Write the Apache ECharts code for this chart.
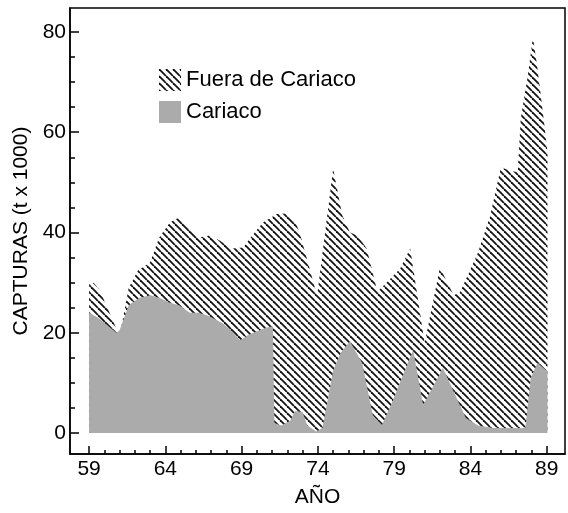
<!DOCTYPE html>
<html>
<head>
<meta charset="utf-8">
<script src="https://cdn.jsdelivr.net/npm/echarts@6/dist/echarts.min.js"></script>
<style>
  html, body { margin: 0; padding: 0; background: #fff; }
  #chart { width: 568px; height: 513px; }
</style>
</head>
<body>
<div id="chart"></div>
<script>
// total catch (top outline of the hatched band)
const totalYears = [59.0, 59.3, 59.7, 60.2, 61.0, 61.6, 62.2, 63.0, 63.6, 64.3, 64.9, 65.6, 66.2, 66.9, 67.55, 68.4, 69.1, 69.7, 70.4, 71.3, 71.96, 72.5, 72.8, 73.95, 75.0, 75.6, 76.1, 76.6, 77.2, 77.9, 78.5, 79.4, 80.05, 81.0, 82.0, 82.9, 83.3, 84.5, 85.3, 86.0, 86.6, 87.1, 87.3, 87.75, 88.1, 88.4, 88.8, 89.05];
const totalValues = [29.7, 30, 28.5, 25, 19.3, 29, 32.4, 34, 39, 42, 43, 40.8, 39, 39.4, 38.4, 36.8, 37, 39.4, 42, 43.7, 43.8, 42.3, 40, 27.4, 52.7, 43.4, 40, 39.4, 36.8, 28.2, 30, 32.8, 36.8, 17.9, 33, 27.5, 28, 36, 43.4, 53, 52.3, 52, 62.7, 71, 79, 72.6, 62.7, 56];

// Cariaco catch (grey area)
const cariacoYears = [59.0, 59.6, 60.8, 61.0, 61.6, 62.3, 63.0, 63.6, 64.3, 64.9, 65.6, 66.2, 66.9, 67.75, 68.3, 68.9, 69.4, 70.0, 70.6, 71.05, 71.15, 71.6, 72.2, 72.5, 73.0, 73.3, 73.9, 74.3, 75.0, 75.5, 76.1, 76.9, 77.6, 78.2, 78.9, 79.9, 80.25, 80.9, 81.5, 82.2, 82.9, 83.7, 84.5, 85.5, 86.5, 87.6, 87.95, 88.4, 89.05];
const cariacoValues = [24, 23, 20, 20.5, 25.5, 27, 27.5, 27, 26, 25.5, 24, 24, 23.3, 21.9, 20.5, 18.5, 19.5, 20.3, 21, 21.3, 2, 1.5, 2.5, 4.4, 4.2, 1.5, 0.3, 1, 12.5, 16, 18.3, 14, 3.6, 1.6, 6.4, 14, 16.5, 5.6, 9, 13, 8.3, 3, 1.5, 1, 1, 1, 11, 14, 12.3];

const yearLabels = [59, 64, 69, 74, 79, 84, 89];
const yearTicks = [];
for (let y = 59; y <= 89; y++) yearTicks.push(y);
const yLabels = [0, 20, 40, 60, 80];
const yTicks = [0, 5, 10, 15, 20, 25, 30, 35, 40, 45, 50, 55, 60, 65, 70, 75, 80];

const names = ['Fuera de Cariaco', 'Cariaco'];

// diagonal hatch pattern
function hatch() {
  const s = 7;
  const c = document.createElement('canvas');
  c.width = s; c.height = s;
  const ctx = c.getContext('2d');
  ctx.fillStyle = '#fff';
  ctx.fillRect(0, 0, s, s);
  ctx.strokeStyle = '#111';
  ctx.lineWidth = 1.8;
  [-s, 0, s].forEach(function (o) {
    ctx.beginPath();
    ctx.moveTo(o, 0);
    ctx.lineTo(o + s, s);
    ctx.stroke();
  });
  return c;
}
const hatchFill = { image: hatch(), repeat: 'repeat' };
const grey = '#ababab';

const font = 'Liberation Sans, Arial, sans-serif';
const black = { color: '#000', width: 1.5 };
const xMin = 57.75, xMax = 90.2, yMin = -4.17, yMax = 84.76;

const chart = echarts.init(document.getElementById('chart'));
chart.setOption({
  animation: false,
  textStyle: { fontFamily: font, color: '#000' },
  grid: { left: 70, right: 3, top: 8, bottom: 57, show: true, borderColor: '#000', borderWidth: 1.5 },
  legend: {
    data: names,
    orient: 'vertical',
    left: 154, top: 64,
    itemWidth: 22, itemHeight: 22, itemGap: 10,
    icon: 'rect',
    textStyle: { fontSize: 22, color: '#000', fontFamily: font }
  },
  xAxis: [{
    type: 'value', min: xMin, max: xMax, position: 'bottom',
    name: 'AÑO', nameLocation: 'middle', nameGap: 33,
    nameTextStyle: { fontSize: 21, color: '#000', fontFamily: font },
    axisLine: { show: true, onZero: false, lineStyle: black },
    axisTick: { show: true, inside: true, length: 8, customValues: yearLabels, lineStyle: black },
    axisLabel: { customValues: yearLabels, fontSize: 21, color: '#000', margin: 5, fontFamily: font },
    splitLine: { show: false }
  }, {
    type: 'value', min: xMin, max: xMax, position: 'bottom',
    axisLine: { show: false, onZero: false },
    axisTick: { show: true, inside: true, length: 4, customValues: yearTicks, lineStyle: black },
    axisLabel: { show: false },
    splitLine: { show: false }
  }],
  yAxis: [{
    type: 'value', min: yMin, max: yMax, position: 'left',
    name: 'CAPTURAS (t x 1000)', nameLocation: 'middle', nameGap: 38,
    nameTextStyle: { fontSize: 21, color: '#000', fontFamily: font },
    axisLine: { show: true, onZero: false, lineStyle: black },
    axisTick: { show: true, inside: true, length: 9, customValues: yLabels, lineStyle: black },
    axisLabel: { customValues: yLabels, fontSize: 21, color: '#000', margin: 4, fontFamily: font },
    splitLine: { show: false }
  }, {
    type: 'value', min: yMin, max: yMax, position: 'left',
    axisLine: { show: false, onZero: false },
    axisTick: { show: true, inside: true, length: 5, customValues: yTicks, lineStyle: black },
    axisLabel: { show: false },
    splitLine: { show: false }
  }],
  series: [{
    name: names[0],
    type: 'line',
    xAxisIndex: 0, yAxisIndex: 0,
    data: totalYears.map(function (x, i) { return [x, totalValues[i]]; }),
    showSymbol: false,
    lineStyle: { width: 0 },
    itemStyle: { color: hatchFill },
    areaStyle: { color: hatchFill, opacity: 1 },
    z: 2
  }, {
    name: names[1],
    type: 'line',
    xAxisIndex: 0, yAxisIndex: 0,
    data: cariacoYears.map(function (x, i) { return [x, cariacoValues[i]]; }),
    showSymbol: false,
    lineStyle: { width: 0 },
    itemStyle: { color: grey },
    areaStyle: { color: grey, opacity: 1 },
    z: 3
  }]
});
</script>
</body>
</html>
